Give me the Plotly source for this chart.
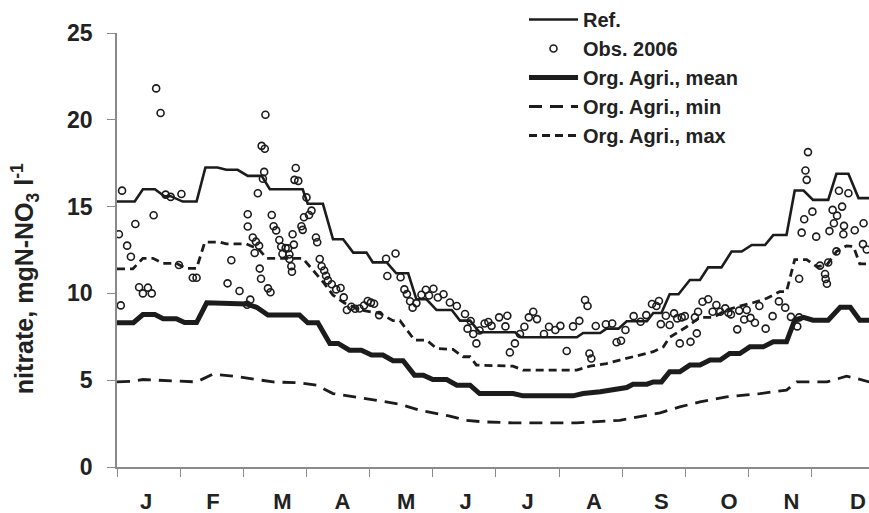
import plotly.graph_objects as go

# Time axis in months from 1 January (0) to 31 December (12)
months = ["J", "F", "M", "A", "M", "J", "J", "A", "S", "O", "N", "D"]
month_starts = list(range(12))
month_label_pos = [0.46, 1.52, 2.62, 3.57, 4.58, 5.52, 6.50, 7.55, 8.62, 9.69, 10.68, 11.73]

# Reference nitrate concentration (mgN-NO3 l-1)
ref_t = [0, 0.28, 0.41, 0.60, 0.75, 0.85, 1.04, 1.26, 1.40, 1.59, 1.73, 1.91, 2.07, 2.29,
         2.42, 2.94, 3.02, 3.26, 3.42, 3.58, 3.74, 3.95, 4.05, 4.27, 4.42, 4.61, 4.74, 4.90,
         5.06, 5.30, 5.43, 5.59, 5.74, 6.30, 6.40, 7.28, 7.38, 7.65, 7.75, 7.94, 8.07, 8.39,
         8.49, 8.62, 8.75, 8.89, 9.07, 9.23, 9.36, 9.57, 9.73, 9.89, 10.05, 10.26, 10.39,
         10.60, 10.73, 10.87, 11.02, 11.26, 11.39, 11.58, 11.74, 11.91]
ref_v = [15.29, 15.29, 16.00, 16.00, 15.60, 15.60, 15.29, 15.29, 17.25, 17.25, 17.12, 17.12,
         16.77, 16.77, 16.00, 16.00, 15.16, 15.16, 13.12, 13.12, 12.35, 12.35, 11.79, 11.79,
         11.16, 11.16, 9.66, 9.66, 9.04, 9.04, 8.43, 8.43, 7.76, 7.76, 7.47, 7.47, 7.72, 7.72,
         7.97, 7.97, 8.40, 8.40, 8.87, 8.87, 9.95, 9.95, 10.77, 10.77, 11.50, 11.50, 12.41,
         12.41, 12.79, 12.79, 13.36, 13.36, 15.93, 15.93, 15.39, 15.39, 16.89, 16.89, 15.49,
         15.49]

# Organic agriculture scenario, mean
mean_t = [0, 0.26, 0.41, 0.60, 0.73, 0.94, 1.07, 1.26, 1.42, 1.63, 1.73, 2.05, 2.21, 2.39,
          2.89, 3.02, 3.18, 3.37, 3.50, 3.68, 3.87, 4.03, 4.21, 4.37, 4.53, 4.71, 4.85, 5.00,
          5.22, 5.38, 5.59, 5.74, 6.27, 6.43, 7.22, 7.38, 7.65, 7.86, 8.07, 8.17, 8.39, 8.49,
          8.62, 8.75, 8.91, 9.07, 9.23, 9.39, 9.55, 9.70, 9.86, 10.02, 10.23, 10.39, 10.60,
          10.73, 10.87, 11.02, 11.26, 11.45, 11.61, 11.76, 11.91]
mean_v = [8.31, 8.31, 8.78, 8.78, 8.54, 8.54, 8.32, 8.32, 9.46, 9.46, 9.39, 9.39, 9.20, 8.75,
          8.75, 8.31, 8.31, 7.12, 7.12, 6.73, 6.73, 6.45, 6.45, 6.12, 6.12, 5.29, 5.29, 5.04,
          5.04, 4.71, 4.71, 4.23, 4.23, 4.10, 4.10, 4.23, 4.33, 4.46, 4.58, 4.77, 4.77, 4.90,
          4.90, 5.48, 5.48, 5.87, 5.87, 6.16, 6.16, 6.54, 6.54, 6.92, 6.92, 7.21, 7.21, 8.46,
          8.62, 8.46, 8.46, 9.20, 9.20, 8.46, 8.46]

# Organic agriculture scenario, minimum
min_t = [0, 0.25, 0.41, 0.99, 1.26, 1.52, 1.94, 2.21, 2.47, 2.89, 3.16, 3.42, 3.74, 4.11,
         4.48, 4.79, 5.00, 5.27, 5.53, 5.80, 6.27, 7.28, 7.96, 8.28, 8.60, 8.91, 9.23, 9.65,
         10.18, 10.60, 10.76, 11.24, 11.55, 11.71, 11.91]
min_v = [4.90, 4.94, 5.04, 4.96, 4.90, 5.35, 5.19, 5.04, 4.90, 4.85, 4.71, 4.23, 4.04, 3.85,
         3.62, 3.27, 3.12, 2.93, 2.69, 2.60, 2.54, 2.54, 2.69, 2.89, 3.12, 3.46, 3.75, 4.04,
         4.23, 4.43, 4.90, 4.90, 5.23, 5.10, 4.90]

# Organic agriculture scenario, maximum
max_t = [0, 0.25, 0.41, 0.57, 0.73, 0.94, 1.09, 1.26, 1.39, 1.63, 1.73, 2.05, 2.15, 2.23,
         2.37, 2.94, 3.10, 3.26, 3.42, 3.60, 3.85, 4.16, 4.37, 4.48, 4.71, 4.90, 5.06, 5.32,
         5.48, 5.59, 5.69, 6.06, 6.27, 6.43, 7.28, 7.49, 7.75, 7.96, 8.23, 8.49, 8.65, 8.75,
         9.02, 9.23, 9.44, 9.65, 9.86, 10.07, 10.29, 10.49, 10.60, 10.73, 10.92, 11.08, 11.24,
         11.39, 11.55, 11.66, 11.76, 11.91]
max_v = [11.41, 11.41, 12.02, 12.02, 11.73, 11.73, 11.44, 11.44, 12.95, 12.95, 12.85, 12.85,
         12.69, 12.60, 12.02, 12.02, 11.35, 10.67, 9.90, 9.45, 9.05, 8.85, 8.43, 8.43, 7.31,
         7.31, 6.83, 6.77, 6.35, 6.35, 5.87, 5.81, 5.81, 5.58, 5.58, 5.81, 5.96, 6.16, 6.39,
         6.64, 6.92, 7.47, 8.08, 8.62, 8.62, 9.04, 9.27, 9.46, 9.72, 10.10, 10.10, 11.95,
         11.95, 11.54, 11.64, 12.41, 12.74, 12.70, 11.70, 11.70]

# Observations 2006
obs_t = [0.03, 0.06, 0.08, 0.16, 0.22, 0.29, 0.35, 0.41, 0.49, 0.55, 0.58, 0.62, 0.69, 0.77,
         0.85, 0.98, 1.02, 1.20, 1.26, 1.75, 1.81, 1.94, 2.06, 2.11, 2.07, 2.07, 2.15, 2.20,
         2.25, 2.18, 2.26, 2.28, 2.39, 2.43, 2.23, 2.33, 2.31, 2.29, 2.34, 2.35, 2.45, 2.48,
         2.52, 2.57, 2.60, 2.67, 2.62, 2.71, 2.73, 2.73, 2.76, 2.77, 2.78, 2.80, 2.83, 2.81,
         2.87, 2.94, 3.00, 3.08, 3.04, 2.96, 2.92, 3.15, 3.17, 3.21, 3.24, 3.28, 3.31, 3.34,
         3.40, 3.47, 3.54, 3.59, 3.64, 3.71, 3.77, 3.84, 3.91, 3.97, 4.02, 4.07, 4.15, 4.26,
         4.41, 4.28, 4.49, 4.55, 4.59, 4.64, 4.68, 4.74, 4.82, 4.89, 4.94, 5.01, 5.08, 5.17,
         5.27, 5.38, 5.51, 5.60, 5.55, 5.64, 5.69, 5.74, 5.82, 5.88, 5.93, 6.05, 6.18, 6.15,
         6.22, 6.30, 6.38, 6.45, 6.52, 6.59, 6.65, 6.76, 6.84, 6.94, 7.02, 7.12, 7.22, 7.32,
         7.41, 7.45, 7.48, 7.51, 7.58, 7.74, 7.84, 7.91, 7.98, 8.05, 8.18, 8.29, 8.38, 8.47,
         8.54, 8.58, 8.61, 8.69, 8.75, 8.82, 8.87, 8.94, 8.99, 8.91, 9.08, 9.15, 9.20, 9.18,
         9.27, 9.36, 9.43, 9.49, 9.55, 9.63, 9.68, 9.72, 9.82, 9.85, 9.93, 9.97, 10.03, 10.10,
         10.17, 10.27, 10.38, 10.48, 10.58, 10.67, 10.77, 10.80, 10.80, 10.84, 10.88, 10.90,
         10.92, 10.94, 11.01, 11.07, 11.13, 11.26, 11.21, 11.22, 11.24, 11.28, 11.33, 11.35,
         11.39, 11.40, 11.43, 11.48, 11.50, 11.51, 11.58, 11.68, 11.81, 11.82, 11.87]
obs_v = [13.41, 9.31, 15.92, 12.75, 12.11, 14.00, 10.35, 10.00, 10.33, 10.00, 14.50, 21.81,
         20.39, 15.69, 15.56, 11.64, 15.73, 10.90, 10.90, 10.58, 11.91, 10.14, 9.35, 9.64,
         14.56, 13.85, 13.22, 12.98, 12.74, 12.33, 11.43, 10.84, 10.29, 10.07, 15.77, 17.00,
         16.60, 18.50, 18.33, 20.29, 14.52, 13.87, 13.63, 13.08, 12.69, 12.61, 12.27, 12.60,
         12.24, 11.98, 11.56, 11.25, 13.41, 12.81, 17.22, 16.54, 16.48, 13.66, 15.53, 14.77,
         14.52, 14.39, 13.87, 13.22, 12.95, 11.98, 11.56, 11.32, 11.02, 10.75, 10.53, 10.23,
         10.31, 9.77, 9.04, 9.23, 9.12, 9.13, 9.30, 9.56, 9.47, 9.40, 8.75, 12.00, 12.30,
         11.00, 10.93, 10.23, 9.96, 9.55, 9.18, 9.44, 9.92, 10.21, 9.88, 10.27, 9.76, 9.95,
         9.48, 9.27, 8.81, 8.41, 7.97, 7.66, 7.12, 7.86, 8.27, 8.35, 8.13, 8.62, 8.71, 8.10,
         6.60, 7.12, 7.66, 8.08, 8.62, 8.94, 8.52, 7.66, 8.08, 7.89, 8.13, 6.68, 8.10, 8.42,
         9.62, 9.27, 6.54, 6.25, 8.12, 8.22, 8.27, 7.19, 7.27, 7.89, 8.69, 8.37, 8.75, 9.39,
         9.27, 9.56, 8.23, 8.71, 8.18, 8.85, 8.56, 8.62, 8.69, 7.12, 7.21, 8.62, 8.94, 7.70,
         9.52, 9.66, 8.94, 9.33, 8.94, 9.14, 8.89, 8.79, 7.93, 9.01, 8.50, 9.04, 8.59, 8.31,
         9.27, 7.97, 8.69, 9.54, 9.18, 8.65, 8.10, 8.62, 10.84, 13.50, 14.27, 17.08, 16.54,
         18.14, 14.71, 13.27, 11.60, 11.78, 11.12, 10.83, 10.56, 13.59, 14.81, 14.04, 12.42,
         14.48, 15.91, 15.00, 13.41, 13.89, 15.77, 13.64, 12.84, 14.04, 12.53]

y_ticks = [0, 5, 10, 15, 20, 25]

INK = "#1c1c1c"
AXIS = "#8a8a8a"
TEXT = "#222222"
FONT = "Liberation Sans, Arial, sans-serif"

fig = go.Figure()

fig.add_trace(go.Scatter(x=ref_t, y=ref_v, mode="lines", name="Ref.",
                         line=dict(color=INK, width=2.6)))
fig.add_trace(go.Scatter(x=obs_t, y=obs_v, mode="markers", name="Obs. 2006",
                         marker=dict(symbol="circle-open", size=7, color=INK,
                                     line=dict(width=1.6, color=INK))))
fig.add_trace(go.Scatter(x=mean_t, y=mean_v, mode="lines", name="Org. Agri., mean",
                         line=dict(color=INK, width=5)))
fig.add_trace(go.Scatter(x=min_t, y=min_v, mode="lines", name="Org. Agri., min",
                         line=dict(color=INK, width=2.8, dash="13px,8px")))
fig.add_trace(go.Scatter(x=max_t, y=max_v, mode="lines", name="Org. Agri., max",
                         line=dict(color=INK, width=2.8, dash="8px,5px")))

# invisible trace carrying the month labels on the overlaid axis
fig.add_trace(go.Scatter(x=month_label_pos, y=[0] * 12, xaxis="x2",
                         mode="markers", marker=dict(opacity=0),
                         showlegend=False, hoverinfo="skip"))

x_range = [0, 11.906]
bold_ticks = dict(size=23, family=FONT, color=TEXT, weight="bold")

fig.update_layout(
    width=869, height=513,
    margin=dict(l=117, r=0, t=33, b=46, autoexpand=False),
    paper_bgcolor="white", plot_bgcolor="white",
    font=dict(family=FONT, color=TEXT),
    showlegend=True,
    legend=dict(xref="container", yref="container", x=0.603, y=1.0,
                xanchor="left", yanchor="top",
                bgcolor="rgba(0,0,0,0)", itemwidth=49, tracegroupgap=0,
                font=dict(size=20, family=FONT, color=TEXT, weight="bold")),
    xaxis=dict(range=x_range, tickvals=month_starts, showticklabels=False,
               ticks="outside", ticklen=8, tickwidth=1.2, tickcolor=AXIS,
               showline=True, linecolor=AXIS, linewidth=1.6, automargin=False,
               showgrid=False, zeroline=False),
    xaxis2=dict(range=x_range, overlaying="x", anchor="y", side="bottom",
                tickvals=month_label_pos, ticktext=months, ticks="",
                ticklabelstandoff=19, showline=False, showgrid=False, zeroline=False,
                automargin=False,
                tickfont=dict(size=22, family=FONT, color=TEXT, weight="bold")),
    yaxis=dict(range=[0, 25], tickvals=y_ticks, ticks="outside", ticklen=8,
               tickwidth=1.2, tickcolor=AXIS, showline=True, linecolor=AXIS,
               linewidth=1.6, showgrid=False, zeroline=False, automargin=False,
               ticklabelstandoff=10, tickfont=bold_ticks),
    annotations=[dict(text="nitrate, mgN-NO<sub>3</sub> l<sup>-1</sup>",
                      textangle=-90, xref="paper", yref="paper",
                      x=-0.123, y=0.434, xanchor="center", yanchor="middle",
                      showarrow=False,
                      font=dict(size=25, family=FONT, color=TEXT, weight="bold"))],
)

fig.write_html("out.html")
